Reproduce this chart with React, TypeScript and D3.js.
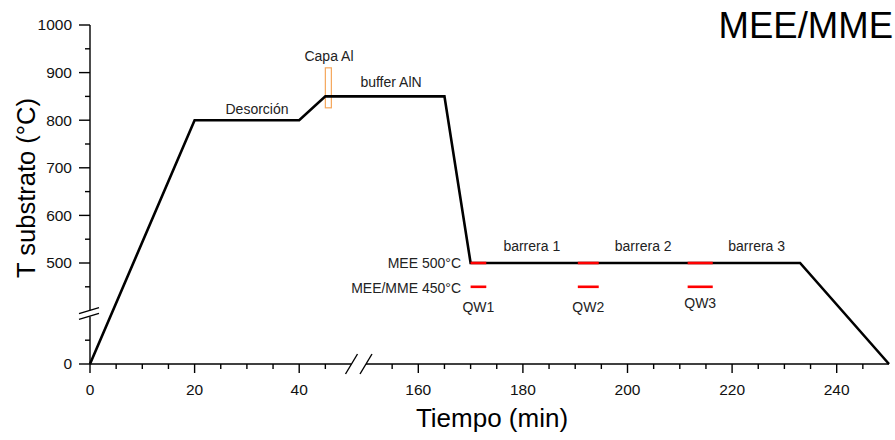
import React from "react";
import * as d3 from "d3";

// Substrate temperature profile (time in min, temperature in °C)
const time = [0, 20, 40, 45, 165, 170, 233, 250];
const temp = [0, 800, 800, 850, 850, 500, 500, 0];

// Quantum-well growth intervals (min) at 500 °C and 450 °C
const qwStart = [170, 190.5, 211.5];
const qwEnd = [173, 194.5, 216.3];
const qwNames = ["QW1", "QW2", "QW3"];
const qwTempHigh = 500;
const qwTempLow = 450;

// Barrier labels (centre time)
const barrierNames = ["barrera 1", "barrera 2", "barrera 3"];
const barrierMid = [181.7, 203, 224.7];

// Al cap window
const capaAlTime = [45, 46.15];
const capaAlTemp = [826, 910];

// Axis ticks
const xMajor = [0, 20, 40, 160, 180, 200, 220, 240];
const xMinor = [5, 10, 15, 25, 30, 35, 45, 155, 165, 170, 175, 185, 190, 195, 205, 210, 215, 225, 230, 235, 245];
const yMajor = [0, 500, 600, 700, 800, 900, 1000];
const yMinor = [50, 450, 550, 650, 750, 850, 950];

const FONT = "'Liberation Sans', Arial, Helvetica, sans-serif";

export default function App() {
  const W = 895;
  const H = 440;

  // Broken axes: x jumps from 50 to 150, y from 100 to 400
  const x = d3.scaleLinear().domain([0, 50, 150, 250]).range([90, 351.5, 366, 889]);
  const y = d3.scaleLinear().domain([0, 100, 400, 1000]).range([364, 316.4, 310.6, 25]);

  const pts: [number, number][] = time.map((t, i) => [t, temp[i]]);
  const line = d3
    .line<[number, number]>()
    .x((d) => x(d[0]))
    .y((d) => y(d[1]));

  const x0 = x(0);
  const y0 = y(0);
  const axisW = 1.4;

  const xBreaks = [x(50), x(150)];
  const yBreaks = [y(100), y(400)];

  return (
    <svg
      width={W}
      height={H}
      style={{ position: "absolute", left: 0, top: 0, background: "#fff" }}
      fontFamily={FONT}
    >
      {/* x axis segments */}
      <g stroke="#000" strokeWidth={axisW} fill="none">
        <line x1={x0} x2={xBreaks[0]} y1={y0} y2={y0} />
        <line x1={xBreaks[1]} x2={x(250)} y1={y0} y2={y0} />
        {xBreaks.map((bx, i) => (
          <line key={i} x1={bx - 6} x2={bx + 6} y1={y0 + 10} y2={y0 - 10} />
        ))}
        {xMajor.map((t) => (
          <line key={"xM" + t} x1={x(t)} x2={x(t)} y1={y0} y2={y0 + 9} />
        ))}
        {xMinor.map((t) => (
          <line key={"xm" + t} x1={x(t)} x2={x(t)} y1={y0} y2={y0 + 5} />
        ))}
      </g>
      {xMajor.map((t) => (
        <text key={"xl" + t} x={x(t)} y={395} fontSize={15.5} textAnchor="middle" fill="#111">
          {t}
        </text>
      ))}

      {/* y axis segments */}
      <g stroke="#000" strokeWidth={axisW} fill="none">
        <line x1={x0} x2={x0} y1={y0} y2={yBreaks[0]} />
        <line x1={x0} x2={x0} y1={yBreaks[1]} y2={y(1000)} />
        {yBreaks.map((by, i) => (
          <line key={i} x1={x0 - 11} x2={x0 + 9} y1={by + 3} y2={by - 3} />
        ))}
        {yMajor.map((v) => (
          <line key={"yM" + v} x1={x0 - 11} x2={x0} y1={y(v)} y2={y(v)} />
        ))}
        {yMinor.map((v) => (
          <line key={"ym" + v} x1={x0 - 5} x2={x0} y1={y(v)} y2={y(v)} />
        ))}
      </g>
      {yMajor.map((v) => (
        <text
          key={"yl" + v}
          x={72}
          y={y(v)}
          dy="0.35em"
          fontSize={15.5}
          textAnchor="end"
          fill="#111"
        >
          {v}
        </text>
      ))}

      {/* axis titles */}
      <text x={492} y={427} fontSize={26} textAnchor="middle" fill="#000">
        Tiempo (min)
      </text>
      <text
        transform={`translate(35, 188) rotate(-90)`}
        fontSize={25.5}
        textAnchor="middle"
        fill="#000"
      >
        T substrato (°C)
      </text>

      {/* panel title */}
      <text x={893} y={38} fontSize={36.5} textAnchor="end" fill="#000">
        MEE/MME
      </text>

      {/* Al cap window */}
      <rect
        x={x(capaAlTime[0])}
        y={y(capaAlTemp[1])}
        width={x(capaAlTime[1]) - x(capaAlTime[0])}
        height={y(capaAlTemp[0]) - y(capaAlTemp[1])}
        fill="none"
        stroke="#f5a65b"
        strokeWidth={1.2}
      />

      {/* temperature profile */}
      <path d={line(pts) ?? ""} fill="none" stroke="#000" strokeWidth={2.6} strokeLinejoin="miter" />

      {/* quantum wells */}
      <g stroke="#f00" strokeWidth={2.6}>
        {qwStart.map((s, i) => (
          <g key={i}>
            <line x1={x(s)} x2={x(qwEnd[i])} y1={y(qwTempHigh)} y2={y(qwTempHigh)} />
            <line x1={x(s)} x2={x(qwEnd[i])} y1={y(qwTempLow)} y2={y(qwTempLow)} />
          </g>
        ))}
      </g>

      {/* annotations */}
      <g fontSize={14} fill="#222">
        <text x={257} y={114} textAnchor="middle">Desorción</text>
        <text x={329} y={61} textAnchor="middle">Capa Al</text>
        <text x={391} y={87} textAnchor="middle">buffer AlN</text>
        <text x={461} y={268} textAnchor="end">MEE 500°C</text>
        <text x={461} y={293} textAnchor="end">MEE/MME 450°C</text>
        {barrierNames.map((n, i) => (
          <text key={n} x={x(barrierMid[i])} y={251} textAnchor="middle">
            {n}
          </text>
        ))}
        {qwNames.map((n, i) => (
          <text
            key={n}
            x={(x(qwStart[i]) + x(qwEnd[i])) / 2}
            y={i === 2 ? 308 : 312}
            textAnchor="middle"
          >
            {n}
          </text>
        ))}
      </g>
    </svg>
  );
}
